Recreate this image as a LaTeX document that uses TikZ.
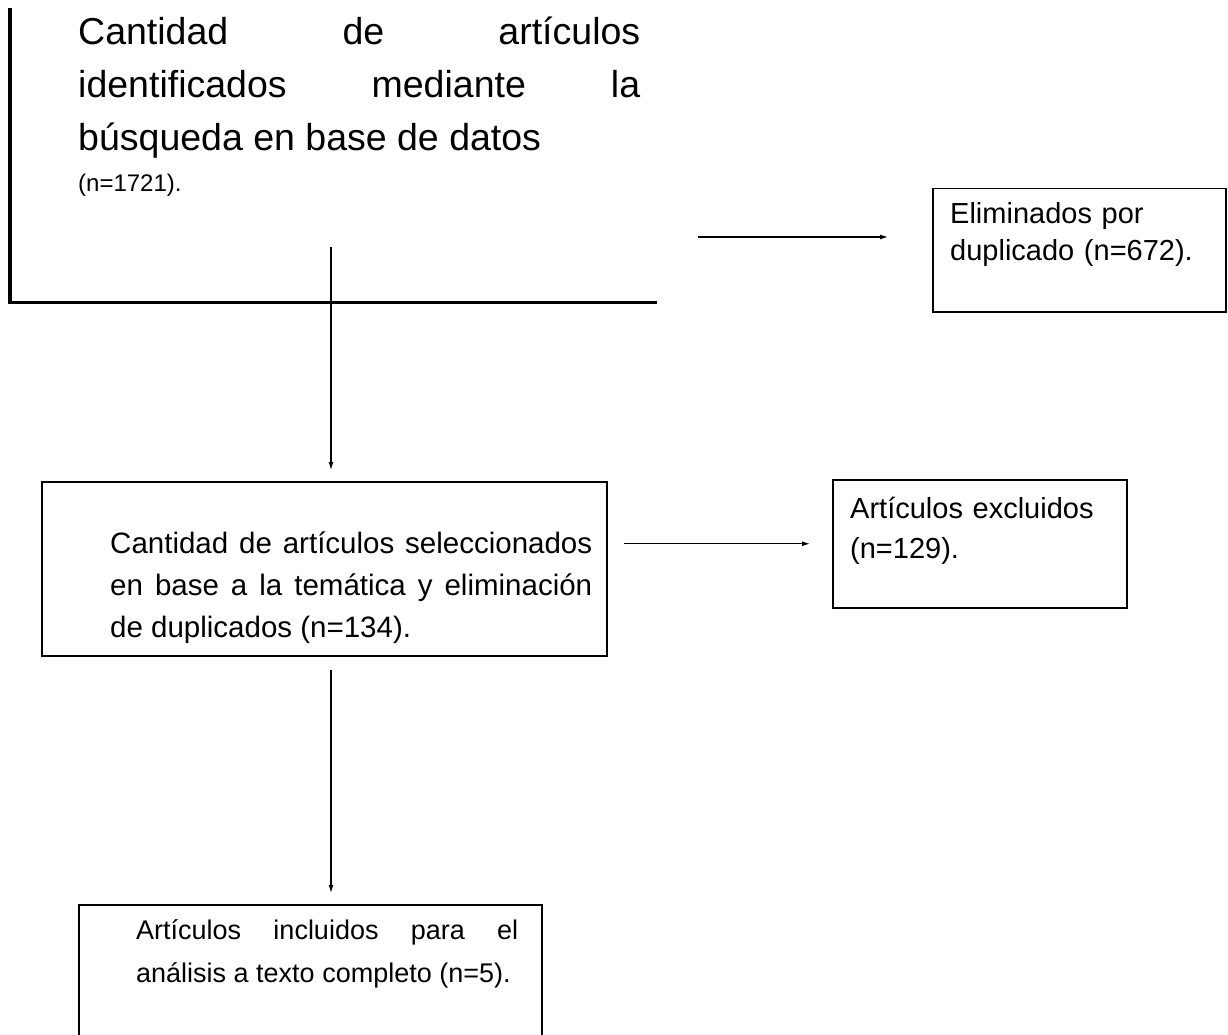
\documentclass[tikz,border=0pt]{standalone}
\usepackage{fontspec}
\setmainfont{Liberation Sans}
\usetikzlibrary{positioning,arrows.meta}

\tikzset{
  caja/.style={draw, line width=1.5pt, anchor=north west, inner sep=0pt},
  texto/.style={anchor=north west, inner sep=0pt, align=justify,
    execute at begin node={\tolerance=10000\hyphenpenalty=10000}},
  flecha/.style={-{Latex[length=8pt,width=5pt]}, line width=1.2pt},
}

\begin{document}
\begin{tikzpicture}[x=1pt,y=-1pt]
  \useasboundingbox (0,0) rectangle (1228,1035);

  % caja de inicio (abierta arriba y a la derecha)
  \node[anchor=north west, inner sep=0pt, minimum width=647pt, minimum height=294pt] (ident) at (10,8) {};
  \draw[line width=3.5pt] (ident.north west) -- (ident.south west) -- (ident.south east);
  \node[texto, text width=562pt, font=\fontsize{37.5}{53}\selectfont] (identtxt) at (78,17)
    {Cantidad de artículos\linebreak identificados mediante la\linebreak búsqueda en base de datos\par
     \vskip-12pt\fontsize{24}{41}\selectfont (n=1721).};

  \node[caja, minimum width=293pt, minimum height=123pt] (elim) at (932,188) {};
  \node[texto, text width=260pt, font=\fontsize{29}{37}\selectfont, align=left] (elimtxt)
    at ([shift={(18,14)}]elim.north west) {Eliminados por\\duplicado (n=672).};

  \node[caja, minimum width=565pt, minimum height=174pt] (sel) at (41,481) {};
  \node[texto, text width=482pt, font=\fontsize{29.5}{42}\selectfont] (seltxt)
    at ([shift={(69,51)}]sel.north west)
    {Cantidad de artículos seleccionados\linebreak en base a la temática y eliminación\linebreak de duplicados (n=134).};

  \node[caja, minimum width=294pt, minimum height=128pt] (excl) at (832,479) {};
  \node[texto, text width=270pt, font=\fontsize{29}{40}\selectfont, align=left] (excltxt)
    at ([shift={(18,18)}]excl.north west) {Artículos excluidos\\(n=129).};

  \node[caja, minimum width=463pt, minimum height=150pt] (incl) at (78,904) {};
  \node[texto, text width=382pt, font=\fontsize{27}{43}\selectfont] (incltxt)
    at ([shift={(58,15)}]incl.north west)
    {Artículos incluidos para el\linebreak análisis a texto completo (n=5).};

  % flechas
  \coordinate (inicio) at (331,247);
  \coordinate (salida) at (698,237);
  \draw[flecha, shorten >=11pt] (inicio) -- (inicio |- sel.north);
  \draw[flecha, shorten >=44pt] (salida) -- (salida -| elim.west);
  \draw[flecha, shorten <=16pt, shorten >=22pt] (sel.east |- excl.west) -- (excl.west);
  \draw[flecha, shorten <=13pt, shorten >=11pt] (inicio |- sel.south) -- (inicio |- incl.north);
\end{tikzpicture}
\end{document}
